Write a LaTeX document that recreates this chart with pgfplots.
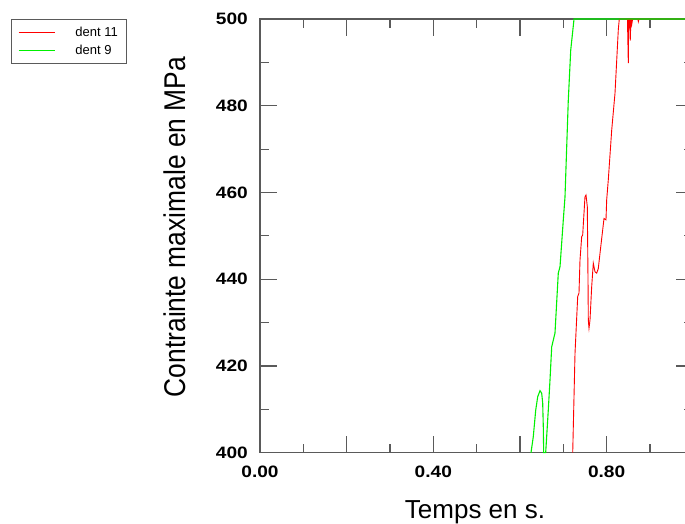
\documentclass[border=0pt]{standalone}
\usepackage{fontspec}
\setmainfont{Liberation Sans}
\newfontfamily\tickfont[FakeStretch=1.16]{Liberation Sans}
\newfontfamily\ylabfont[FakeStretch=0.88]{Liberation Sans}
\usepackage{pgfplots}
\pgfplotsset{compat=1.18}
\definecolor{axgray}{RGB}{90,90,90}
\definecolor{pred}{RGB}{255,0,0}
\definecolor{pgreen}{RGB}{0,240,0}
\begin{document}
\begin{tikzpicture}
\begin{axis}[
  at={(0pt,0pt)}, anchor=south west,
  scale only axis,
  set layers=standard,
  clip=false,
  width=433.3pt, height=433.7pt,
  xmin=0, xmax=1.0, ymin=400, ymax=500,
  axis line style={axgray, line width=1.1pt},
  every tick/.style={axgray, line width=1.1pt},
  tick align=inside,
  major tick length=17pt,
  minor tick length=9pt,
  xtick={0,0.2,0.4,0.6,0.8,1.0},
  xticklabels={0.00,,0.40,,0.80,},
  minor xtick={0.1,0.3,0.5,0.7,0.9},
  ytick={400,420,440,460,480,500},
  yticklabels={400,420,440,460,480,500},
  minor ytick={410,430,450,470,490},
  xticklabel style={font=\fontsize{16.5}{16.5}\tickfont\bfseries, inner sep=0pt, anchor=north, yshift=-13pt},
  yticklabel style={font=\fontsize{16.5}{16.5}\tickfont\bfseries, inner sep=0pt, anchor=east, xshift=-12pt},
  xlabel={Temps en s.},
  ylabel={Contrainte maximale en MPa},
  xlabel style={font=\fontsize{26}{26}\selectfont, at={(axis description cs:0.4962,-0.1375)}, anchor=center, inner sep=0pt},
  ylabel style={font=\fontsize{30}{30}\ylabfont, at={(axis description cs:-0.1978,0.5204)}, anchor=center, inner sep=0pt},
  legend style={at={(axis description cs:-0.5754,1)}, anchor=north west, draw=axgray, line width=0.8pt,
    font=\fontsize{13}{13}\selectfont, inner xsep=7pt, inner ysep=6.5pt, row sep=3.5pt,
    nodes={inner sep=1.5pt},
    /tikz/every odd column/.append style={column sep=18pt}},
  legend cell align=left,
  legend image code/.code={\draw[mark repeat=2,mark phase=2,#1] plot coordinates {(0pt,0pt) (18.35pt,0pt) (36.7pt,0pt)};},
]
\addplot[color=pred, line width=0.9pt] coordinates {
(0.7217,400) (0.7270,422.9) (0.7332,436.0) (0.7362,436.8) (0.7385,444.4) (0.7424,449.8) (0.7447,450.2) (0.7500,459.0) (0.7524,459.4) (0.7554,456.7) (0.7570,439.8) (0.7577,430.6) (0.7593,428.7) (0.7616,430.6) (0.7655,438.3) (0.7692,443.7) (0.7731,441.7) (0.7771,441.4) (0.7808,442.5) (0.7847,446.0) (0.7909,451.4) (0.7939,454.0) (0.7985,453.7) (0.8001,458.3) (0.8038,462.9) (0.8117,474.4) (0.8193,482.9) (0.8269,497.5) (0.8292,500) (0.8480,500) (0.8500,489.8) (0.8507,500) (0.8530,500) (0.8545,495.0) (0.8560,500) (0.8570,500) (0.8580,498.8) (0.8600,500) (0.8720,500) (0.8732,499.4) (0.8745,500) (1.0,500)
};
\addlegendentry{dent 11}
\addplot[color=pgreen, line width=1.1pt] coordinates {
(0.6254,400) (0.6307,403.7) (0.6363,409.8) (0.6409,412.9) (0.6462,414.3) (0.6501,413.7) (0.6524,411.5) (0.6538,406.0) (0.6547,400) (0.6593,400) (0.6616,403.7) (0.6653,409.8) (0.6693,416.8) (0.6732,424.4) (0.6808,427.6) (0.6884,441.4) (0.6924,442.9) (0.7000,453.7) (0.7039,459.0) (0.7115,481.3) (0.7171,492.8) (0.7247,500) (1.0,500)
};
\addlegendentry{dent 9}
\end{axis}
\pgfresetboundingbox
\path[use as bounding box] (-260pt,-71.3pt) rectangle (425pt,452.7pt);
\end{tikzpicture}
\end{document}
